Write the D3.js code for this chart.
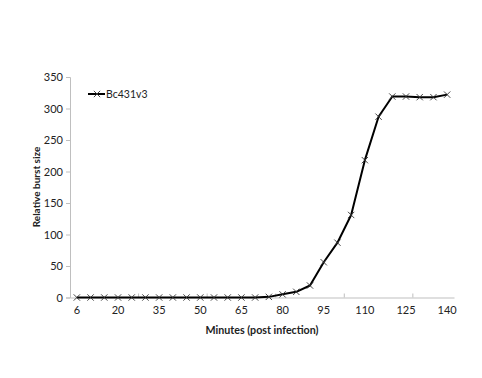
<!DOCTYPE html>
<html>
<head>
<meta charset="utf-8">
<script src="https://cdn.jsdelivr.net/npm/d3@7"></script>
<style>
  body { margin: 0; background: #fff; }
  text { font-family: Lato, "Open Sans", sans-serif; fill: #222; }
</style>
</head>
<body>
<svg id="chart"></svg>
<script>
// categories (minutes post infection) and values
const minutes = [6, 10, 15, 20, 25, 30, 35, 40, 45, 50, 55, 60, 65, 70, 75, 80, 85, 90, 95, 100, 105, 110, 115, 120, 125, 130, 135, 140];
const burst = [0, 0, 0, 0, 0, 0, 0, 0, 0, 0, 0, 0, 0, 0, 1, 5, 9, 19, 56, 87, 131, 218, 287, 319, 319, 318, 318, 322];
const yTicks = [0, 50, 100, 150, 200, 250, 300, 350];
const seriesName = "Bc431v3";

const W = 482, H = 378;
const margin = { top: 77, right: 28, bottom: 80.5, left: 70 };
const width = W - margin.left - margin.right;
const height = H - margin.top - margin.bottom;

const svg = d3.select("#chart").attr("width", W).attr("height", H);
const g = svg.append("g").attr("transform", `translate(${margin.left},${margin.top})`);

const x = d3.scaleBand().domain(minutes).range([0, width]);
const cx = d => x(d) + x.bandwidth() / 2;
const y = d3.scaleLinear().domain([0, 350]).range([height, 0]);

const axisColor = "#bfbfbf";

// y axis
const yAxis = g.append("g")
  .call(d3.axisLeft(y).tickValues(yTicks).tickSize(4).tickPadding(3));
yAxis.select(".domain").attr("stroke", axisColor);
yAxis.selectAll(".tick line").attr("stroke", axisColor);
yAxis.selectAll(".tick text").attr("font-size", 11).attr("fill", "#222")
  .style("font-family", "Lato, 'Open Sans', sans-serif");

// x axis: labels every 3rd category, tick marks every 5th boundary
const xAxis = g.append("g").attr("transform", `translate(0,${height})`)
  .call(d3.axisBottom(x).tickValues(minutes.filter((d, i) => i % 3 === 0)).tickSize(0).tickPadding(9));
xAxis.select(".domain").attr("stroke", axisColor);
xAxis.selectAll(".tick text").attr("font-size", 11).attr("fill", "#222")
  .style("font-family", "Lato, 'Open Sans', sans-serif");
g.append("g").selectAll("line")
  .data(minutes.filter((d, i) => i % 5 === 0 && i > 0))
  .join("line")
  .attr("x1", d => x(d)).attr("x2", d => x(d))
  .attr("y1", height - 4).attr("y2", height)
  .attr("stroke", axisColor);

// line
const pts = minutes.map((m, i) => ({ m, v: burst[i] }));
g.append("path")
  .datum(pts)
  .attr("fill", "none")
  .attr("stroke", "#000")
  .attr("stroke-width", 2)
  .attr("stroke-linejoin", "round")
  .attr("d", d3.line().x(d => cx(d.m)).y(d => y(d.v)));

// x markers
const cross = d3.symbol().type(d3.symbolTimes).size(28);
g.append("g").selectAll("path")
  .data(pts)
  .join("path")
  .attr("transform", d => `translate(${cx(d.m)},${y(d.v)})`)
  .attr("d", cross)
  .attr("fill", "none")
  .attr("stroke", "#333")
  .attr("stroke-width", 0.9);

// legend
const leg = svg.append("g").attr("transform", "translate(88,94)");
leg.append("line").attr("x1", 0).attr("x2", 17).attr("stroke", "#000").attr("stroke-width", 2);
leg.append("path").attr("transform", "translate(9,0)").attr("d", cross)
  .attr("fill", "none").attr("stroke", "#333").attr("stroke-width", 0.9);
leg.append("text").attr("x", 18).attr("y", 4).attr("font-size", 10.5).text(seriesName);

// axis titles
svg.append("text")
  .attr("x", 262).attr("y", 334)
  .attr("text-anchor", "middle").attr("font-size", 10.7).attr("font-weight", "bold")
  .text("Minutes (post infection)");
svg.append("text")
  .attr("transform", "translate(40,187) rotate(-90)")
  .attr("text-anchor", "middle").attr("font-size", 10).attr("font-weight", "bold")
  .text("Relative burst size");
</script>
</body>
</html>
